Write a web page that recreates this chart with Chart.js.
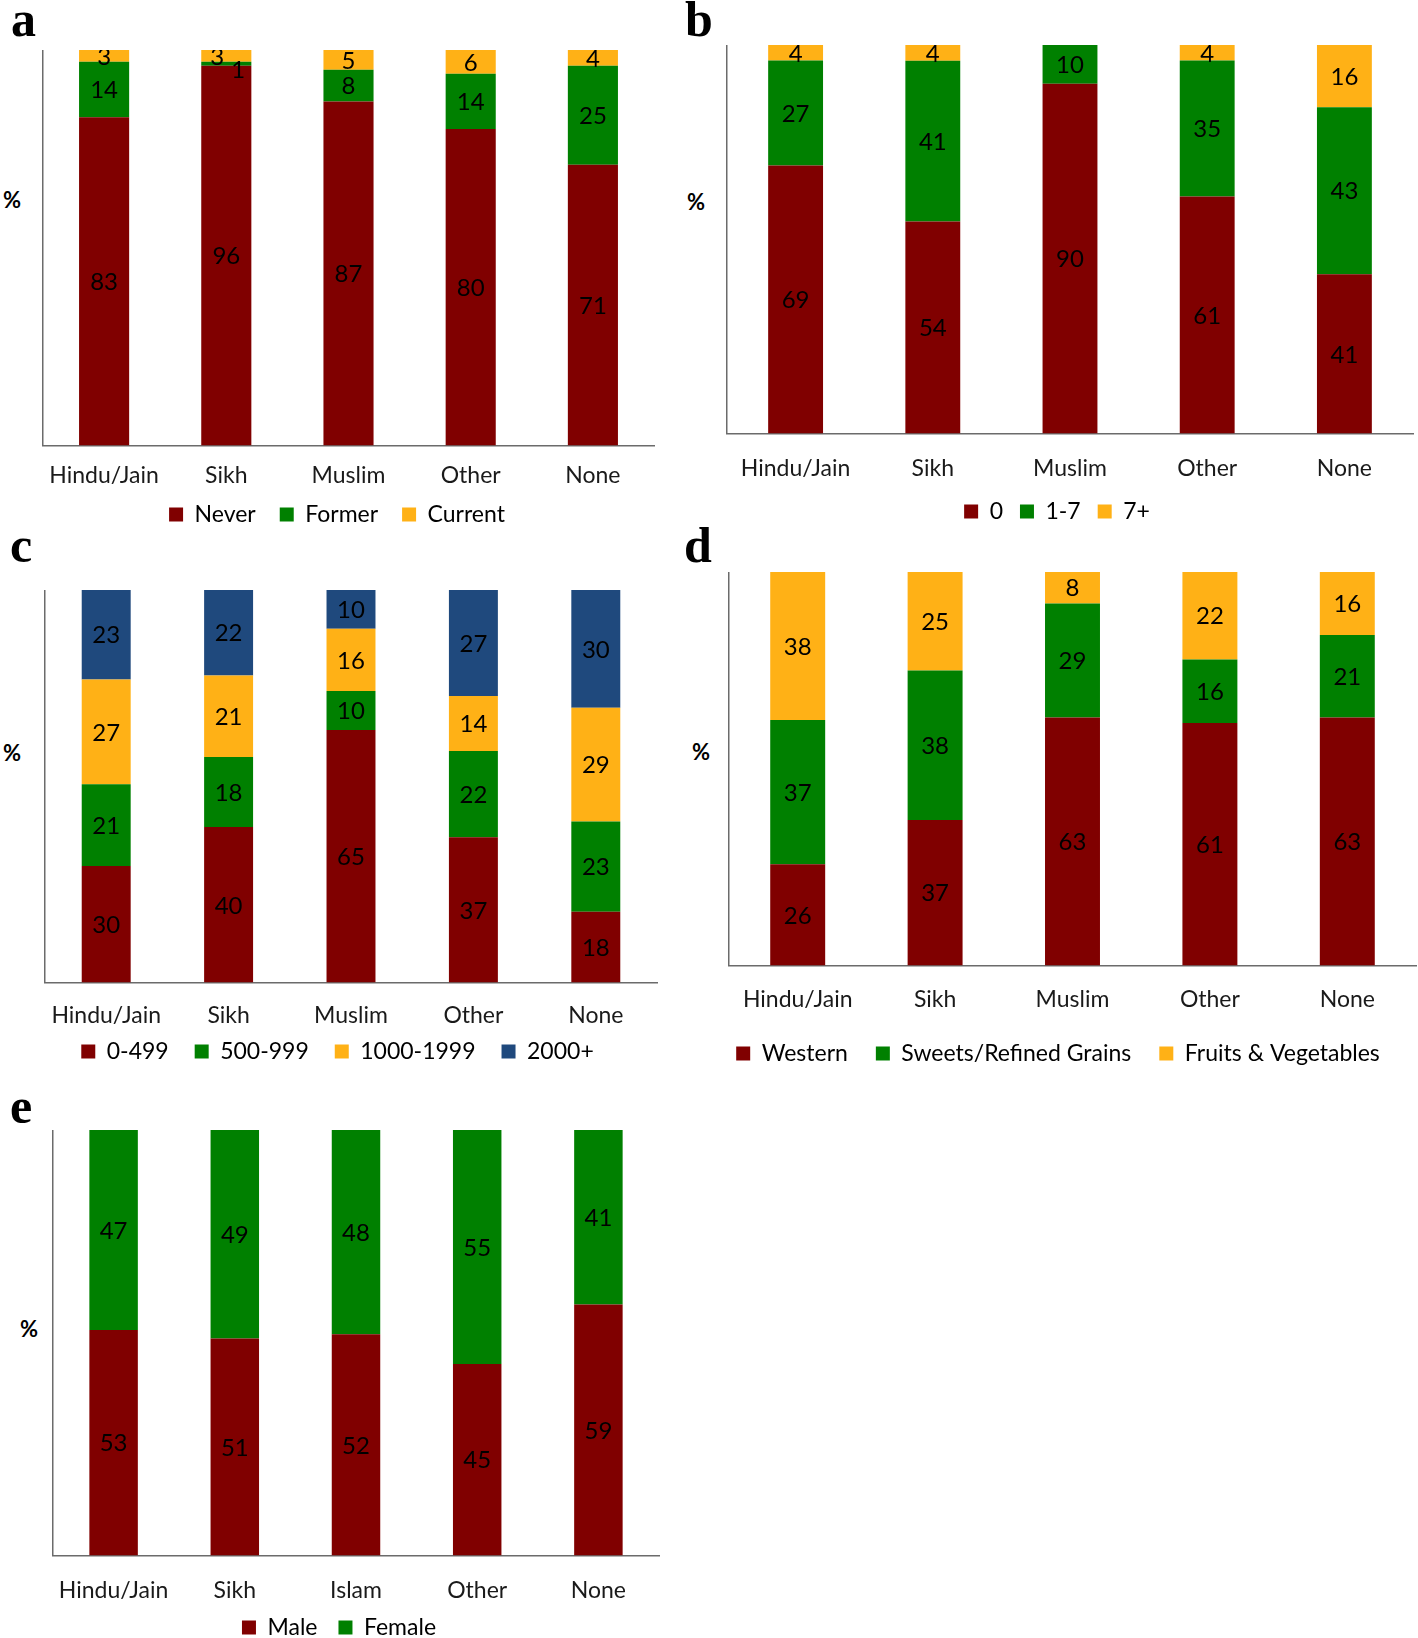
<!DOCTYPE html>
<html>
<head>
<meta charset="utf-8">
<script src="https://cdn.jsdelivr.net/npm/chart.js@4/dist/chart.umd.min.js"></script>
<style>
  html, body { margin: 0; padding: 0; background: #fff; overflow: hidden; }
  body { width: 1418px; height: 1638px; position: relative; }
  canvas { position: absolute; }
  .letter { position: absolute; font-family: "Liberation Serif", serif; font-weight: bold; font-size: 50px; line-height: 50px; color: #000; }
  .pct { position: absolute; font-family: Lato, sans-serif; font-weight: bold; font-size: 22px; line-height: 22px; color: #000; }
</style>
</head>
<body>
<div class="letter" style="left:11px;top:-6px;">a</div>
<div class="letter" style="left:685px;top:-6px;">b</div>
<div class="letter" style="left:10px;top:520px;">c</div>
<div class="letter" style="left:684px;top:520px;">d</div>
<div class="letter" style="left:10px;top:1081px;">e</div>
<div class="pct" style="left:3px;top:189px;">%</div>
<div class="pct" style="left:687px;top:191px;">%</div>
<div class="pct" style="left:3px;top:742px;">%</div>
<div class="pct" style="left:692px;top:741px;">%</div>
<div class="pct" style="left:20px;top:1318px;">%</div>

<canvas id="ca"></canvas>
<canvas id="cb"></canvas>
<canvas id="cc"></canvas>
<canvas id="cd"></canvas>
<canvas id="ce"></canvas>

<script>
// ---------------- DATA ----------------
const religions = ["Hindu/Jain", "Sikh", "Muslim", "Other", "None"];
const religionsE = ["Hindu/Jain", "Sikh", "Islam", "Other", "None"];

// a: smoking
const smokeNever   = [83, 96, 87, 80, 71];
const smokeFormer  = [14, 1, 8, 14, 25];
const smokeCurrent = [3, 3, 5, 6, 4];

// b: alcohol units/week
const alc0    = [69, 54, 90, 61, 41];
const alc1to7 = [27, 41, 10, 35, 43];
const alc7p   = [4, 4, 0, 4, 16];

// c: physical activity
const pa0_499     = [30, 40, 65, 37, 18];
const pa500_999   = [21, 18, 10, 22, 23];
const pa1000_1999 = [27, 21, 16, 14, 29];
const pa2000p     = [23, 22, 10, 27, 30];

// d: dietary pattern
const dietWestern = [26, 37, 63, 61, 63];
const dietSweets  = [37, 38, 29, 16, 21];
const dietFruits  = [38, 25, 8, 22, 16];

// e: sex
const sexMale   = [53, 51, 52, 45, 59];
const sexFemale = [47, 49, 48, 55, 41];

// ---------------- STYLE ----------------
const RED = "#800000", GREEN = "#008000", AMBER = "#FFB116", BLUE = "#1F497D";
const FONT = "Lato, 'Open Sans', sans-serif";

const segLabels = {
  id: 'segLabels',
  afterDatasetsDraw(chart, args, opts) {
    const ctx = chart.ctx;
    ctx.save();
    ctx.font = "24px " + FONT;
    ctx.fillStyle = "#000";
    ctx.textAlign = "center";
    ctx.textBaseline = "middle";
    chart.data.datasets.forEach((ds, d) => {
      const meta = chart.getDatasetMeta(d);
      meta.data.forEach((el, i) => {
        const raw = ds.rawValues[i];
        if (!raw) return;
        const n = (opts.nudge || []).find(o => o.d === d && o.i === i) || {dx: 0, dy: 0};
        ctx.fillText(String(raw), el.x + n.dx, (el.y + el.base) / 2 + n.dy + 1);
      });
    });
    ctx.restore();
  }
};

// let the category labels overflow their (deliberately short) scale box
const labelRoom = {
  id: 'labelRoom',
  afterLayout(chart) {
    const s = chart.scales.x;
    s.bottom = s.top + 80;
  }
};

function makeChart(id, L, categories, series, nudge) {
  // normalise every bar to 100 % (as a 100% stacked chart does)
  const totals = categories.map((_, i) => series.reduce((s, se) => s + se.values[i], 0));
  const datasets = series.map(se => ({
    label: se.label,
    data: se.values.map((v, i) => v / totals[i] * 100),
    rawValues: se.values,
    backgroundColor: se.color,
    borderWidth: 0,
    categoryPercentage: 1,
    barPercentage: L.barPct
  }));
  const cv = document.getElementById(id);
  const width = L.chartR + L.padR - L.L0;
  const height = Math.round(L.itemCenter + 21.5 - L.top);
  cv.style.left = L.L0 + "px";
  cv.style.top = L.top + "px";
  cv.width = width; cv.height = height;
  cv.style.width = width + "px"; cv.style.height = height + "px";
  const yW = L.chartL - L.L0;
  const X = L.itemCenter - L.base - L.p - 11.5;
  const tickPad = L.tickCenter - L.base - 13.8;
  new Chart(cv, {
    type: 'bar',
    data: { labels: categories, datasets },
    plugins: [segLabels, labelRoom],
    options: {
      responsive: false,
      animation: false,
      devicePixelRatio: 1,
      layout: { padding: { left: 0, right: L.padR, top: 0, bottom: 0 } },
      plugins: {
        tooltip: { enabled: false },
        segLabels: { nudge: nudge || [] },
        legend: {
          position: 'bottom',
          labels: {
            boxWidth: 14, boxHeight: 14, padding: L.p,
            color: "#000",
            font: { family: FONT, size: 23 }
          }
        }
      },
      scales: {
        x: {
          stacked: true,
          grid: { display: false, drawTicks: false },
          border: { display: true, color: "#6b6b6b", width: 1.5 },
          ticks: { color: "#1a1a1a", padding: tickPad, font: { family: FONT, size: 23 }, maxRotation: 0, autoSkip: false },
          afterFit(scale) { scale.height = X; }
        },
        y: {
          stacked: true,
          min: 0, max: 100,
          grid: { display: false, drawTicks: false },
          border: { display: true, color: "#6b6b6b", width: 1.5 },
          ticks: { display: false },
          afterFit(scale) { scale.width = yW; }
        }
      }
    }
  });
}

makeChart("ca",
  { L0: 20, chartL: 43, chartR: 654, padR: 4, top: 50, base: 445, itemCenter: 514, p: 24, tickCenter: 475, barPct: 0.41 },
  religions,
  [ { label: "Never", values: smokeNever, color: RED },
    { label: "Former", values: smokeFormer, color: GREEN },
    { label: "Current", values: smokeCurrent, color: AMBER } ],
  [ { d: 2, i: 1, dx: -9, dy: 0 }, { d: 1, i: 1, dx: 12, dy: 5 } ]
);

makeChart("cb",
  { L0: 701, chartL: 727, chartR: 1413, padR: 4, top: 45, base: 433, itemCenter: 511, p: 17, tickCenter: 468, barPct: 0.40 },
  religions,
  [ { label: "0", values: alc0, color: RED },
    { label: "1-7", values: alc1to7, color: GREEN },
    { label: "7+", values: alc7p, color: AMBER } ]
);

makeChart("cc",
  { L0: 18, chartL: 45, chartR: 657, padR: 4, top: 590, base: 982, itemCenter: 1051, p: 26, tickCenter: 1015, barPct: 0.40 },
  religions,
  [ { label: "0-499", values: pa0_499, color: RED },
    { label: "500-999", values: pa500_999, color: GREEN },
    { label: "1000-1999", values: pa1000_1999, color: AMBER },
    { label: "2000+", values: pa2000p, color: BLUE } ]
);

makeChart("cd",
  { L0: 700, chartL: 729, chartR: 1416, padR: 1, top: 572, base: 965, itemCenter: 1053, p: 28, tickCenter: 999, barPct: 0.40 },
  religions,
  [ { label: "Western", values: dietWestern, color: RED },
    { label: "Sweets/Refined Grains", values: dietSweets, color: GREEN },
    { label: "Fruits & Vegetables", values: dietFruits, color: AMBER } ]
);

makeChart("ce",
  { L0: 19, chartL: 53, chartR: 659, padR: 4, top: 1130, base: 1555, itemCenter: 1627, p: 21, tickCenter: 1590, barPct: 0.40 },
  religionsE,
  [ { label: "Male", values: sexMale, color: RED },
    { label: "Female", values: sexFemale, color: GREEN } ]
);
</script>
</body>
</html>
